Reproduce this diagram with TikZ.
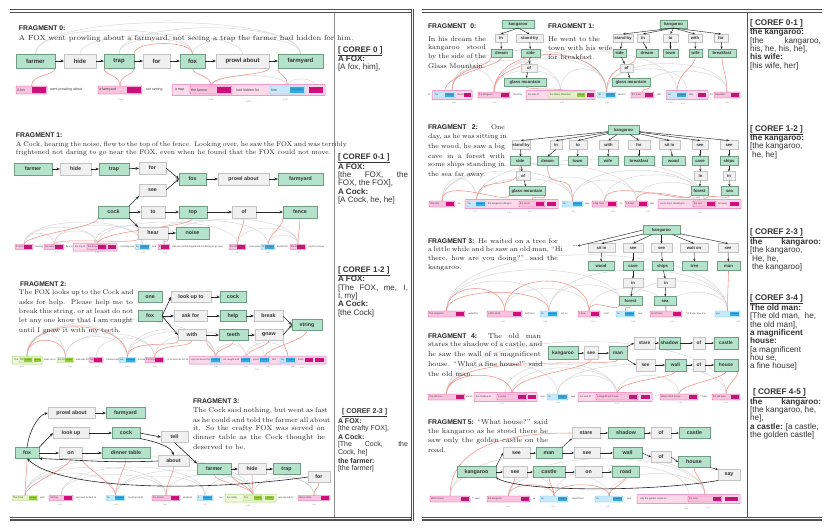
\documentclass[tikz,border=0pt]{standalone}
\usepackage{fontspec}
\setsansfont{Liberation Sans}
\usetikzlibrary{arrows.meta,backgrounds}
\definecolor{gnf}{HTML}{B4E2CB}
\definecolor{gnb}{HTML}{6F9E84}
\definecolor{gyf}{HTML}{F0F0F0}
\definecolor{gyb}{HTML}{C4C4C4}
\definecolor{pkf}{HTML}{F9C2DE}
\definecolor{pkb}{HTML}{E6409A}
\definecolor{pkc}{HTML}{FBD9EA}
\definecolor{pkt}{HTML}{D10F7C}
\definecolor{blf}{HTML}{C6EAFB}
\definecolor{blb}{HTML}{6CC4EE}
\definecolor{blt}{HTML}{34A8E0}
\definecolor{lmf}{HTML}{E3F3C6}
\definecolor{lmb}{HTML}{A9D46C}
\definecolor{lmt}{HTML}{95C83A}
\definecolor{garc}{HTML}{D6D6D6}
\definecolor{rarc}{HTML}{F2928A}
\definecolor{rulec}{HTML}{505050}
\newcommand\tagnameN{NOMINAL}
\newcommand\tagnameP{PRONOMINAL}
\newcommand\tagnameR{PROPER}
\newcounter{tc}
\newcommand\Nd[7]{\pgfmathsetmacro\ndw{#4-#3}\pgfmathsetmacro\ndx{(#3+#4)/2}\node[#2,minimum width=\ndw pt,minimum height=#6pt] (#1) at (\ndx,#5) {#7};}
\newcommand\Mn[6]{\pgfmathsetmacro\ndw{#4-#3}\pgfmathsetmacro\ndx{(#3+#4)/2}%
\node[mb#2,minimum width=\ndw pt,minimum height=\mh pt] (#1) at (\ndx,#5) {};%
\node[txt,anchor=west] (#1t) at ([xshift=1pt]#1.west) {#6};%
\node[tg#2,anchor=east,minimum width=\tagw pt,minimum height=\mh pt-1.6pt] (#1g) at ([xshift=-0.8pt]#1.east) {\csname tagname#2\endcsname};}
\newcommand\Bx[5]{\pgfmathsetmacro\ndw{#4-#3}\pgfmathsetmacro\ndx{(#3+#4)/2}\node[cb#2,minimum width=\ndw pt,minimum height=\mh pt+3pt] (#1) at (\ndx,#5) {};}
\newcommand\Tg[5]{\pgfmathsetmacro\ndw{#4-#3}\pgfmathsetmacro\ndx{(#3+#4)/2}\node[tg#2,minimum width=\ndw pt,minimum height=\mh pt-1.6pt] (#1) at (\ndx,#5) {\csname tagname#2\endcsname};}
\newcommand\Tx[3]{\stepcounter{tc}\node[txt,anchor=west] (tx\arabic{tc}) at (#1,#2) {#3};}
\newcommand\Sc[3]{\stepcounter{tc}\node[scr] (sc\arabic{tc}) at (#1,#2) {#3};}
\newcommand\Ag[3]{\draw[gline] (#1) .. controls +(0,-#3) and +(0,-#3) .. (#2);}
\newcommand\Ra[3]{\draw[rline] (#1) .. controls +(0,-#3) and +(0,-#3) .. (#2);}
\newcommand\Rn[4]{\draw[rline] (#1) .. controls +(0,-#3) and +(0,#4) .. (#2);}
\newcommand\Jl[4]{\stepcounter{tc}\node[para] (pl\arabic{tc}) at (#1,#2) {\makebox[#3pt][s]{#4}};}
\newcommand\Nl[3]{\stepcounter{tc}\node[para] (pl\arabic{tc}) at (#1,#2) {#3};}
\newcommand\Cl[3]{\stepcounter{tc}\node[cr] (cl\arabic{tc}) at (#1,#2) {#3};}
\newcommand\Cj[4]{\stepcounter{tc}\node[cr] (cl\arabic{tc}) at (#1,#2) {\makebox[#3pt][s]{#4}};}
\newcommand\titlefont{\sffamily\bfseries\fontsize{6.8}{8}\selectfont}
\newcommand\parafont{\rmfamily\fontsize{7}{8}\selectfont}
\newcommand\spfont{\sffamily\fontsize{2.4}{2.6}\selectfont}
\newcommand\tagfont{\sffamily\fontsize{1.3}{1.4}\selectfont}
\newcommand\crfont{\sffamily\fontsize{8}{9}\selectfont}
\newcommand\mh{5}
\newcommand\tagw{8}
\tikzset{
 bs/.style={inner sep=0pt, outer sep=0pt},
 gn/.style={bs, draw=gnb, fill=gnf, line width=0.5pt},
 gy/.style={bs, draw=gyb, fill=gyf, line width=0.5pt},
 fL/.style={font=\sffamily\bfseries\fontsize{6}{7}\selectfont, text=black!80},
 fM/.style={font=\sffamily\bfseries\fontsize{5.3}{6}\selectfont, text=black!80},
 fS/.style={font=\sffamily\bfseries\fontsize{4.2}{5}\selectfont, text=black!80},
 fT/.style={font=\sffamily\bfseries\fontsize{4.8}{5}\selectfont, text=black!80},
 arr/.style={-{Stealth[length=3.5pt,width=2.8pt]}, line width=0.6pt, black!85},
 arrs/.style={-{Stealth[length=2.6pt,width=2.1pt]}, line width=0.45pt, black!85},
 mbN/.style={bs, draw=pkb, fill=pkf, line width=0.4pt, rounded corners=0.6pt},
 mbP/.style={bs, draw=blb, fill=blf, line width=0.4pt, rounded corners=0.6pt},
 mbR/.style={bs, draw=lmb, fill=lmf, line width=0.4pt, rounded corners=0.6pt},
 cbN/.style={bs, draw=pkb!75, fill=pkc, line width=0.5pt, rounded corners=0.6pt},
 cbR/.style={bs, draw=lmb, fill=lmf!60, line width=0.5pt, rounded corners=0.6pt},
 tgN/.style={bs, fill=pkt, font=\tagfont, text=black!70},
 tgP/.style={bs, fill=blt, font=\tagfont, text=black!70},
 tgR/.style={bs, fill=lmt, font=\tagfont, text=black!70},
 gline/.style={draw=garc, line width=0.45pt},
 rline/.style={draw=rarc, line width=0.55pt},
 txt/.style={bs, font=\spfont, text=black!75},
 scr/.style={bs, font=\sffamily\fontsize{1.8}{2}\selectfont, text=black!60},
 para/.style={bs, anchor=west, font=\parafont, text=black!85},
 cr/.style={bs, anchor=west, font=\crfont, text=black!80},
}
\begin{document}
\begin{tikzpicture}[x=1pt,y=-1pt]
\useasboundingbox (0,0) rectangle (830,531);
% rules
\draw[rulec,line width=1.4pt] (10,9.5) -- (411,9.5);
\draw[rulec,line width=0.5pt] (10,12.5) -- (411,12.5);
\draw[rulec,line width=0.5pt] (10,517) -- (411,517);
\draw[rulec,line width=1.4pt] (10,520) -- (411,520);
\draw[rulec,line width=1.4pt] (422,9.5) -- (822,9.5);
\draw[rulec,line width=0.5pt] (422,12.5) -- (822,12.5);
\draw[rulec,line width=0.5pt] (422,517) -- (822,517);
\draw[rulec,line width=1.4pt] (422,520) -- (822,520);
\draw[black!45,line width=1pt] (334,13) -- (334,517);
\draw[rulec,line width=0.5pt] (411,9) -- (411,521);
\draw[rulec,line width=0.5pt] (413.5,9) -- (413.5,521);
\draw[rulec,line width=0.6pt] (747,13) -- (747,517);

% ================= LEFT FRAGMENT 0
\renewcommand\parafont{\rmfamily\fontsize{7.4}{8}\selectfont}
\Nl{19}{28}{\titlefont FRAGMENT 0:}
\Nl{19}{39}{A FOX went prowling about a farmyard, not seeing a trap the farmer had hidden for him.}
\Nd{a0farmer}{gn,fL}{16}{55}{61}{14}{farmer}
\Nd{a0hide}{gy,fL}{64}{96}{61}{14}{hide}
\Nd{a0trap}{gn,fL}{104}{134}{61}{14}{trap}
\Nd{a0for}{gy,fL}{143}{170}{61}{14}{for}
\Nd{a0fox}{gn,fL}{180}{205}{61}{14}{fox}
\Nd{a0prowl}{gy,fL}{216}{269}{61}{14}{prowl about}
\Nd{a0farmyard}{gn,fL}{278}{323}{61}{14}{farmyard}
\draw[arr] (a0farmer) -- (a0hide);
\draw[arr] (a0hide) -- (a0trap);
\draw[arr] (a0trap) -- (a0for);
\draw[arr] (a0for) -- (a0fox);
\draw[arr] (a0fox) -- (a0prowl);
\draw[arr] (a0prowl) -- (a0farmyard);
\renewcommand\mh{8}\renewcommand\tagw{14}
\renewcommand\spfont{\sffamily\fontsize{3.6}{4}\selectfont}
\renewcommand\tagfont{\sffamily\fontsize{1.9}{2}\selectfont}
\Mn{m0a}{N}{16}{47}{90}{A fox}
\Tx{50}{90}{went prowling about}
\Mn{m0b}{N}{98}{142}{90}{a farmyard}
\Tx{144}{90}{, not seeing}
\Bx{m0c}{N}{172}{325}{90}
\Tx{175}{90}{a trap}
\Mn{m0d}{N}{190}{232}{90}{the farmer}
\Tx{236}{90}{had hidden for}
\Mn{m0e}{P}{270}{305}{90}{him}
\Tg{m0f}{N}{309}{323}{90}
\Sc{121}{100}{1.000}\Sc{211}{100}{0.789}\Sc{248}{102}{1.433}\Sc{285}{100}{-0.761}

% ================= LEFT FRAGMENT 1
\renewcommand\parafont{\rmfamily\fontsize{6.7}{8}\selectfont}
\Nl{16}{135}{\titlefont FRAGMENT 1:}
\Jl{16}{145}{308}{A Cock, hearing the noise, flew to the top of the fence. Looking over, he saw the FOX and was terribly}
\Nl{16}{153}{frightened not daring to go near the FOX, even when he found that the FOX could not move.}
\Nd{b1farmer}{gn,fM}{14}{52}{169}{12}{farmer}
\Nd{b1hide}{gy,fM}{60}{91}{169}{12}{hide}
\Nd{b1trap}{gn,fM}{99}{129}{169}{12}{trap}
\Nd{b1for}{gy,fM}{139}{166}{168}{12}{for}
\Nd{b1fox}{gn,fM}{179}{206}{179}{12}{fox}
\Nd{b1prowl}{gy,fM}{218}{269}{179}{12}{prowl about}
\Nd{b1farmyard}{gn,fM}{278}{323}{179}{12}{farmyard}
\Nd{b1see}{gy,fM}{139}{166}{190}{12}{see}
\Nd{b1cock}{gn,fM}{98}{129}{212}{12}{cock}
\Nd{b1to}{gy,fM}{141}{165}{212}{12}{to}
\Nd{b1top}{gn,fM}{179}{207}{212}{12}{top}
\Nd{b1of}{gy,fM}{232}{256}{212}{12}{of}
\Nd{b1fence}{gn,fM}{283}{317}{212}{12}{fence}
\Nd{b1hear}{gy,fM}{138}{168}{233}{12}{hear}
\Nd{b1noise}{gn,fM}{176}{209}{233}{12}{noise}
\draw[arr] (b1farmer) -- (b1hide);
\draw[arr] (b1hide) -- (b1trap);
\draw[arr] (b1trap) -- (b1for);
\draw[arr] (b1for.east) -- (b1fox.west);
\draw[arr] (b1see.east) -- (b1fox.west);
\draw[arr] (b1fox) -- (b1prowl);
\draw[arr] (b1prowl) -- (b1farmyard);
\draw[arr] (b1cock.north east) -- (b1see.south west);
\draw[arr] (b1cock) -- (b1to);
\draw[arr] (b1to) -- (b1top);
\draw[arr] (b1top) -- (b1of);
\draw[arr] (b1of) -- (b1fence);
\draw[arr] (b1cock.south east) -- (b1hear.north west);
\draw[arr] (b1hear) -- (b1noise);
\renewcommand\mh{5}\renewcommand\tagw{8}
\renewcommand\spfont{\sffamily\fontsize{2.4}{2.6}\selectfont}
\renewcommand\tagfont{\sffamily\fontsize{1.3}{1.4}\selectfont}
\Mn{m1a}{N}{15}{33}{247}{A Cock}
\Tx{35}{247}{hearing}
\Mn{m1b}{N}{44}{64}{247}{the noise}
\Tx{66}{247}{flew to}
\Bx{m1c}{N}{73}{117}{247}
\Tx{75}{247}{the top of}
\Mn{m1d}{N}{87}{107}{247}{the fence}
\Tg{m1e}{N}{108}{116}{247}
\Tx{119}{247}{. Looking over,}
\Mn{m1f}{P}{135}{150}{247}{he}
\Tx{152}{247}{saw}
\Mn{m1g}{N}{158}{170}{247}{the FOX}
\Tx{172}{247}{and was terribly frightened not daring to go near}
\Mn{m1h}{N}{229}{246}{247}{the FOX}
\Tx{248}{247}{, even when}
\Mn{m1i}{P}{261}{275}{247}{he}
\Tx{277}{247}{found that}
\Mn{m1j}{N}{290}{306}{247}{the FOX}
\Tx{308}{247}{could not move.}
\Sc{57}{253}{1.77}\Sc{97}{253}{0.43}\Sc{143}{253}{1.00}\Sc{165}{253}{1.01}\Sc{237}{253}{0.8}\Sc{268}{253}{1.00}\Sc{298}{253}{0.8}

% ================= LEFT FRAGMENT 2
\renewcommand\parafont{\rmfamily\fontsize{6.8}{8}\selectfont}
\Nl{20}{284}{\titlefont FRAGMENT 2:}
\Jl{19}{293}{114}{The FOX looks up to the Cock and}
\Jl{19}{303}{114}{asks for help. Please help me to}
\Jl{19}{312}{114}{break this string, or at least do not}
\Jl{19}{321}{114}{let any one know that I am caught}
\Nl{19}{331}{until I gnaw it with my teeth.}
\Nd{c2one}{gn,fM}{138}{162}{297}{11}{one}
\Nd{c2lookup}{gy,fM}{171}{211}{297}{11}{look up to}
\Nd{c2cock}{gn,fM}{220}{246}{297}{11}{cock}
\Nd{c2fox}{gn,fM}{138}{162}{316}{11}{fox}
\Nd{c2ask}{gy,fM}{174}{207}{316}{11}{ask for}
\Nd{c2help}{gn,fM}{220}{246}{316}{11}{help}
\Nd{c2break}{gy,fM}{254}{283}{316}{11}{break}
\Nd{c2string}{gn,fM}{292}{322}{325}{11}{string}
\Nd{c2with}{gy,fM}{178}{206}{335}{11}{with}
\Nd{c2teeth}{gn,fM}{219}{248}{335}{11}{teeth}
\Nd{c2gnaw}{gy,fM}{255}{283}{335}{11}{gnaw}
\draw[arr] (c2fox.east) -- (c2lookup.west);
\draw[arr] (c2fox) -- (c2ask);
\draw[arr] (c2fox.east) -- (c2with.west);
\draw[arr] (c2lookup) -- (c2cock);
\draw[arr] (c2ask) -- (c2help);
\draw[arr] (c2help) -- (c2break);
\draw[arr] (c2break.east) -- (c2string.west);
\draw[arr] (c2with) -- (c2teeth);
\draw[arr] (c2teeth) -- (c2gnaw);
\draw[arr] (c2gnaw.east) -- (c2string.west);
\Bx{m2a}{R}{12}{42}{360}
\Tx{14}{360}{The}
\Mn{m2b}{R}{19}{33}{360}{FOX}
\Tg{m2c}{R}{34}{41}{360}
\Tx{44}{360}{looks up to}
\Mn{m2d}{R}{57}{74}{360}{the Cock}
\Tx{76}{360}{and asks for}
\Mn{m2e}{N}{89}{103}{360}{help}
\Tx{105}{360}{. Please help}
\Mn{m2f}{P}{119}{136}{360}{me}
\Tx{138}{360}{to break}
\Mn{m2g}{N}{145}{164}{360}{this string}
\Tx{166}{360}{, or at least do not let}
\Bx{m2h}{N}{189}{326}{360}
\Tx{191}{360}{any one know that}
\Mn{m2i}{P}{210}{221}{360}{I}
\Tx{223}{360}{am caught until}
\Mn{m2j}{P}{241}{251}{360}{I}
\Tx{253}{360}{gnaw}
\Mn{m2k}{P}{259}{270}{360}{it}
\Tx{272}{360}{with}
\Mn{m2l}{P}{280}{296}{360}{my}
\Tx{298}{360}{teeth}
\Tg{m2m}{N}{305}{313}{360}
\Tg{m2n}{N}{315}{324}{360}
\Sc{22}{367}{1.00}\Sc{70}{367}{1.00}\Sc{97}{367}{1.07}\Sc{127}{367}{1.00}\Sc{155}{367}{1.00}\Sc{216}{367}{0.90}\Sc{246}{367}{0.00}\Sc{257}{370}{1.00}\Sc{268}{367}{0.20}\Sc{293}{367}{0.00}\Sc{302}{368}{1.00}

% ================= LEFT FRAGMENT 3
\renewcommand\parafont{\rmfamily\fontsize{7}{8}\selectfont}
\Nl{193}{401}{\titlefont FRAGMENT 3:}
\Jl{193}{411}{132}{The Cock said nothing, but went as fast}
\Jl{193}{420}{132}{as he could and told the farmer all about}
\Jl{193}{429}{132}{it. So the crafty FOX was served on}
\Jl{193}{438}{132}{dinner table as the Cock thought he}
\Nl{193}{447}{deserved to be.}
\Nd{d3prowl}{gy,fM}{48}{95}{413}{11}{prowl about}
\Nd{d3farmyard}{gn,fM}{106}{145}{413}{11}{farmyard}
\Nd{d3lookup}{gy,fM}{53}{89}{433}{11}{look up}
\Nd{d3cock}{gn,fM}{112}{140}{433}{11}{cock}
\Nd{d3tell}{gy,fM}{161}{188}{437}{11}{tell}
\Nd{d3fox}{gn,fM}{15}{39}{453}{11}{fox}
\Nd{d3on}{gy,fM}{59}{82}{453}{11}{on}
\Nd{d3dinner}{gn,fM}{102}{150}{453}{11}{dinner table}
\Nd{d3about}{gy,fM}{158}{189}{461}{11}{about}
\Nd{d3farmer}{gn,fM}{197}{231}{469}{11}{farmer}
\Nd{d3hide}{gy,fM}{238}{266}{469}{11}{hide}
\Nd{d3trap}{gn,fM}{273}{300}{469}{11}{trap}
\Nd{d3for}{gy,fM}{308}{330}{477}{11}{for}
\draw[arr] (d3fox.north) .. controls +(2,-16) and +(-10,2) .. (d3prowl.west);
\draw[arr] (d3fox.north east) -- (d3lookup.west);
\draw[arr] (d3fox) -- (d3on);
\draw[arr] (d3prowl) -- (d3farmyard);
\draw[arr] (d3lookup) -- (d3cock);
\draw[arr] (d3on) -- (d3dinner);
\draw[arr] (d3cock.east) -- (d3tell.west);
\draw[arr] (d3cock.south east) .. controls +(20,4) and +(-2,-8) .. (d3about.north);
\draw[arr] (d3tell.south) -- (d3farmer.north west);
\draw[arr] (d3about.west) .. controls +(-50,2) and +(50,2) .. (d3fox.south east);
\draw[arr] (d3farmer) -- (d3hide);
\draw[arr] (d3hide) -- (d3trap);
\draw[arr] (d3for.west) .. controls (200,492) and (60,490) .. (d3fox.south);
\Mn{m3a}{R}{12}{38}{498}{The Cock}
\Tx{40}{498}{said}
\Mn{m3b}{N}{49}{73}{498}{nothing}
\Tx{75}{498}{, but went as fast as}
\Mn{m3c}{P}{106}{125}{498}{he}
\Tx{128}{498}{could and told}
\Mn{m3d}{N}{152}{180}{498}{the farmer}
\Tx{183}{498}{all about}
\Mn{m3e}{P}{197}{213}{498}{it}
\Tx{218}{498}{. So}
\Bx{m3f}{R}{225}{276}{498}
\Tx{227}{498}{the crafty}
\Mn{m3g}{R}{243}{263}{498}{Fox}
\Tg{m3h}{R}{265}{274}{498}
\Tx{278}{498}{was served on}
\Mn{m3i}{N}{298}{330}{498}{dinner table}
\Sc{60}{505}{1.00}\Sc{116}{505}{-0.51}\Sc{165}{505}{1.00}\Sc{205}{505}{1.07}\Sc{248}{506}{-0.87}\Sc{314}{505}{1.00}

% ================= LEFT COREF
\Cl{338}{51}{\textbf{\underline{[ COREF 0 ]}}}
\Cl{338}{59}{\textbf{A FOX:}}
\Cl{338}{67}{[A fox, him],}
\Cl{338}{158}{\textbf{\underline{[ COREF 0-1 ]}}}
\Cl{338}{167}{\textbf{A FOX:}}
\Cj{338}{175}{70}{[the FOX, the}
\Cl{338}{183}{FOX, the FOX],}
\Cl{338}{192}{\textbf{A Cock:}}
\Cl{338}{200}{[A Cock, he, he]}
\Cl{338}{271}{\textbf{\underline{[ COREF 1-2 ]}}}
\Cl{338}{279}{\textbf{A FOX:}}
\Cj{338}{288}{70}{[The FOX, me, I,}
\Cl{338}{296}{I, my]}
\Cl{338}{304}{\textbf{A Cock:}}
\Cl{338}{313}{[the Cock]}
\renewcommand\crfont{\sffamily\fontsize{7}{8}\selectfont}
\Cl{342}{413}{\textbf{\underline{[ COREF 2-3 ]}}}
\Cl{338}{421}{\textbf{A FOX:}}
\Cl{338}{429}{[the crafty FOX],}
\Cl{338}{437}{\textbf{A Cock:}}
\Cj{338}{445}{70}{[The Cock, the}
\Cl{338}{453}{Cock, he]}
\Cl{338}{461}{\textbf{the farmer:}}
\Cl{338}{469}{[the farmer]}

% ================= RIGHT FRAGMENT 0 / 1
\renewcommand\parafont{\rmfamily\fontsize{7}{8}\selectfont}
\Nl{428}{26}{\titlefont FRAGMENT\ \ 0:}
\Jl{428}{39}{58}{In his dream the}
\Jl{428}{48}{58}{kangaroo stood}
\Jl{428}{57}{58}{by the side of the}
\Nl{428}{66}{Glass Mountain.}
\Nl{548}{26}{\titlefont FRAGMENT 1:}
\Jl{548}{39}{52}{He went to the}
\Nl{548}{48}{town with his wife}
\Nl{548}{57}{for breakfast.}
\Nd{e0kang}{gn,fS}{502}{534}{24}{8}{kangaroo}
\Nd{e0in}{gy,fS}{495}{507}{38}{8}{in}
\Nd{e0stand}{gy,fS}{516}{543}{38}{8}{stand by}
\Nd{e0dream}{gn,fS}{491}{512}{53}{8}{dream}
\Nd{e0side}{gn,fS}{521}{540}{53}{8}{side}
\Nd{e0of}{gy,fS}{521}{537}{68}{8}{of}
\Nd{e0glass}{gn,fS}{504}{546}{82}{8}{glass mountain}
\draw[arrs] (e0kang.south) -- (e0in.north);
\draw[arrs] (e0kang.south) -- (e0stand.north);
\draw[arrs] (e0in) -- (e0dream);
\draw[arrs] (e0stand) -- (e0side);
\draw[arrs] (e0side) -- (e0of);
\draw[arrs] (e0of) -- (e0glass);
\Nd{f1kang}{gn,fS}{660}{687}{24}{8}{kangaroo}
\Nd{f1stand}{gy,fS}{613}{633}{38}{8}{stand by}
\Nd{f1in}{gy,fS}{637}{649}{38}{8}{in}
\Nd{f1to}{gy,fS}{663}{678}{38}{8}{to}
\Nd{f1with}{gy,fS}{688}{702}{38}{8}{with}
\Nd{f1for}{gy,fS}{714}{728}{38}{8}{for}
\Nd{f1side}{gn,fS}{613}{626}{53}{8}{side}
\Nd{f1dream}{gn,fS}{636}{658}{53}{8}{dream}
\Nd{f1town}{gn,fS}{663}{678}{53}{8}{town}
\Nd{f1wife}{gn,fS}{689}{702}{53}{8}{wife}
\Nd{f1breakfast}{gn,fS}{708}{736}{53}{8}{breakfast}
\Nd{f1of}{gy,fS}{620}{633}{68}{8}{of}
\Nd{f1glass}{gn,fS}{612}{650}{82}{8}{glass mountain}
\foreach \t in {stand,in,to,with,for} {\draw[arrs] (f1kang.south) -- (f1\t.north);}
\draw[arrs] (f1stand) -- (f1side);
\draw[arrs] (f1in.south) -- (f1dream.north);
\draw[arrs] (f1to) -- (f1town);
\draw[arrs] (f1with) -- (f1wife);
\draw[arrs] (f1for) -- (f1breakfast);
\draw[arrs] (f1side) -- (f1of);
\draw[arrs] (f1of) -- (f1glass);
\renewcommand\mh{6}
\Tx{428}{95}{In}
\Bx{n0a}{N}{432}{472}{95}
\Mn{n0b}{P}{434}{455}{95}{his}
\Tx{457}{95}{dream}
\Tg{n0c}{N}{464}{471}{95}
\Mn{n0d}{N}{478}{510}{95}{the kangaroo}
\Tx{513}{95}{stood by}
\Bx{n0e}{N}{526}{595}{95}
\Tx{528}{95}{the side of}
\Mn{n0f}{R}{549}{586}{95}{the Glass Mountain}
\Tg{n0g}{N}{587}{594}{95}
\Mn{n1a}{P}{597}{616}{95}{He}
\Tx{618}{95}{went to}
\Mn{n1b}{N}{631}{654}{95}{the town}
\Tx{657}{95}{with}
\Bx{n1c}{N}{666}{708}{95}
\Mn{n1d}{P}{667}{687}{95}{his}
\Tx{689}{95}{wife}
\Tg{n1e}{N}{698}{706}{95}
\Tx{710}{95}{for}
\Mn{n1f}{N}{714}{740}{95}{breakfast}
\Sc{454}{103}{1.000}\Sc{494}{103}{1.08}\Sc{562}{103}{1.00}\Sc{607}{103}{1.00}\Sc{670}{103}{1.00}\Sc{683}{104}{1.00}\Sc{727}{103}{1.00}

% ================= RIGHT FRAGMENT 2
\renewcommand\parafont{\rmfamily\fontsize{6.9}{8}\selectfont}
\Jl{428}{127}{77}{{\titlefont FRAGMENT 2:} One}
\Jl{428}{137}{77}{day, as he was sitting in}
\Jl{428}{147}{77}{the wood, he saw a big}
\Jl{428}{156}{77}{cave in a forest with}
\Jl{428}{165}{77}{some ships standing in}
\Nl{428}{175}{the sea far away.}
\Nd{g2kang}{gn,fS}{608}{639}{130}{9}{kangaroo}
\Nd{g2stand}{gy,fS}{512}{530}{145}{9}{stand by}
\Nd{g2in}{gy,fS}{550}{562}{145}{9}{in}
\Nd{g2to}{gy,fS}{569}{587}{145}{9}{to}
\Nd{g2with}{gy,fS}{599}{618}{145}{9}{with}
\Nd{g2for}{gy,fS}{628}{650}{145}{9}{for}
\Nd{g2sit}{gy,fS}{659}{680}{145}{9}{sit in}
\Nd{g2see}{gy,fS}{692}{708}{145}{9}{see}
\Nd{g2seeb}{gy,fS}{720}{738}{145}{9}{see}
\Nd{g2side}{gn,fS}{510}{530}{161}{9}{side}
\Nd{g2dream}{gn,fS}{537}{558}{161}{9}{dream}
\Nd{g2town}{gn,fS}{568}{587}{161}{9}{town}
\Nd{g2wife}{gn,fS}{598}{618}{161}{9}{wife}
\Nd{g2breakfast}{gn,fS}{624}{654}{161}{9}{breakfast}
\Nd{g2wood}{gn,fS}{662}{685}{161}{9}{wood}
\Nd{g2cave}{gn,fS}{692}{708}{161}{9}{cave}
\Nd{g2ships}{gn,fS}{720}{738}{161}{9}{ships}
\Nd{g2of}{gy,fS}{516}{530}{176}{9}{of}
\Nd{g2ina}{gy,fS}{694}{707}{176}{9}{in}
\Nd{g2inb}{gy,fS}{723}{735}{176}{9}{in}
\Nd{g2glass}{gn,fS}{509}{545}{191}{9}{glass mountain}
\Nd{g2forest}{gn,fS}{691}{708}{191}{9}{forest}
\Nd{g2sea}{gn,fS}{721}{738}{191}{9}{sea}
\foreach \t in {stand,in,to,with,for,sit,see,seeb} {\draw[arrs] (g2kang) -- (g2\t.north);}
\draw[arrs] (g2stand) -- (g2side);
\draw[arrs] (g2in.south) -- (g2dream.north);
\draw[arrs] (g2to) -- (g2town);
\draw[arrs] (g2with) -- (g2wife);
\draw[arrs] (g2for) -- (g2breakfast);
\draw[arrs] (g2sit) -- (g2wood);
\draw[arrs] (g2see) -- (g2cave);
\draw[arrs] (g2seeb) -- (g2ships);
\draw[arrs] (g2side) -- (g2of);
\draw[arrs] (g2of) -- (g2glass);
\draw[arrs] (g2cave) -- (g2ina);
\draw[arrs] (g2ina) -- (g2forest);
\draw[arrs] (g2ships) -- (g2inb);
\draw[arrs] (g2inb) -- (g2sea);
\Mn{n2a}{N}{429}{455}{204}{One day}
\Tx{458}{204}{as}
\Bx{n2b}{N}{465}{558}{204}
\Mn{n2c}{P}{467}{486}{204}{he}
\Tx{488}{204}{the kangaroo sitting in}
\Mn{n2d}{N}{519}{545}{204}{the wood}
\Tg{n2e}{N}{547}{556}{204}
\Mn{n2f}{P}{562}{583}{204}{he}
\Tx{585}{204}{saw}
\Mn{n2g}{N}{592}{617}{204}{a big cave}
\Tx{620}{204}{in}
\Mn{n2h}{N}{625}{648}{204}{a forest}
\Tx{650}{204}{with}
\Bx{n2i}{N}{658}{741}{204}
\Tx{660}{204}{some ships standing in}
\Mn{n2j}{N}{693}{716}{204}{the sea}
\Tx{718}{204}{far away}
\Tg{n2k}{N}{730}{739}{204}
\Sc{475}{212}{0.77}\Sc{509}{213}{1.00}\Sc{530}{212}{0.90}\Sc{573}{212}{0.70}\Sc{613}{212}{1.00}\Sc{648}{212}{1.00}\Sc{700}{213}{1.00}

% ================= RIGHT FRAGMENT 3
\Jl{428}{241}{130}{{\titlefont FRAGMENT 3:} He waited on a tree for}
\Jl{428}{250}{130}{a little while and he saw an old man, ``Hi}
\Jl{428}{259}{130}{there, how are you doing?'' said the}
\Nl{428}{268}{kangaroo.}
\node[bs,font=\rmfamily\fontsize{7}{8}\selectfont] (h3dots) at (575,246) {\dots};
\Nd{h3kang}{gn,fS}{643}{680}{230}{9}{kangaroo}
\Nd{h3sit}{gy,fS}{588}{615}{248}{9}{sit in}
\Nd{h3seea}{gy,fS}{623}{643}{248}{9}{see}
\Nd{h3seeb}{gy,fS}{651}{672}{248}{9}{see}
\Nd{h3wait}{gy,fS}{680}{708}{248}{9}{wait on}
\Nd{h3seec}{gy,fS}{718}{738}{248}{9}{see}
\Nd{h3wood}{gn,fS}{588}{614}{266}{9}{wood}
\Nd{h3cave}{gn,fS}{623}{643}{266}{9}{cave}
\Nd{h3ships}{gn,fS}{652}{673}{266}{9}{ships}
\Nd{h3tree}{gn,fS}{682}{707}{266}{9}{tree}
\Nd{h3man}{gn,fS}{717}{740}{266}{9}{man}
\Nd{h3ina}{gy,fS}{623}{643}{283}{9}{in}
\Nd{h3inb}{gy,fS}{657}{675}{283}{9}{in}
\Nd{h3forest}{gn,fS}{619}{642}{301}{9}{forest}
\Nd{h3sea}{gn,fS}{654}{676}{301}{9}{sea}
\draw[arrs] (h3kang.west) -- (h3dots.east);
\foreach \t in {sit,seea,seeb,wait,seec} {\draw[arrs] (h3kang) -- (h3\t.north);}
\draw[arrs] (h3sit) -- (h3wood);
\draw[arrs] (h3seea) -- (h3cave);
\draw[arrs] (h3seeb) -- (h3ships);
\draw[arrs] (h3wait) -- (h3tree);
\draw[arrs] (h3seec) -- (h3man);
\draw[arrs] (h3cave) -- (h3ina);
\draw[arrs] (h3ina) -- (h3forest);
\draw[arrs] (h3ships) -- (h3inb);
\draw[arrs] (h3inb) -- (h3sea);
\Mn{n3a}{N}{428}{465}{314}{The kangaroo}
\Tx{468}{314}{waited for}
\Mn{n3b}{N}{487}{522}{314}{a little while}
\Tx{525}{314}{and then}
\Mn{n3c}{P}{540}{558}{314}{he}
\Tx{561}{314}{sat on}
\Mn{n3d}{N}{578}{600}{314}{a tree}
\Tx{603}{314}{, and}
\Mn{n3e}{P}{616}{635}{314}{he}
\Tx{638}{314}{saw}
\Mn{n3f}{N}{650}{682}{314}{an old man}
\Tx{685}{314}{, ``Hi there, how are}
\Mn{n3g}{P}{715}{740}{314}{you}
\Sc{503}{322}{1.00}\Sc{545}{322}{-1.00}\Sc{593}{322}{1.07}\Sc{633}{322}{0.90}\Sc{672}{322}{1.00}\Sc{738}{322}{-0.21}

% ================= RIGHT FRAGMENT 4
\renewcommand\parafont{\rmfamily\fontsize{7.1}{8}\selectfont}
\Jl{428}{336}{113}{{\titlefont FRAGMENT 4:} The old man}
\Jl{428}{345}{113}{stares the shadow of a castle, and}
\Jl{428}{355}{113}{he saw the wall of a magnificent}
\Jl{428}{364}{113}{house. ``What a fine house!'' said}
\Nl{428}{374}{the old man.}
\Nd{i4kang}{gn,fT}{548}{578}{353}{13}{kangaroo}
\Nd{i4see}{gy,fT}{584}{598}{353}{13}{see}
\Nd{i4man}{gn,fT}{609}{627}{353}{13}{man}
\Nd{i4stare}{gy,fT}{634}{655}{343}{12}{stare}
\Nd{i4shadow}{gn,fT}{659}{680}{343}{12}{shadow}
\Nd{i4ofa}{gy,fT}{693}{705}{343}{12}{of}
\Nd{i4castle}{gn,fT}{714}{738}{343}{12}{castle}
\Nd{i4seeb}{gy,fT}{636}{655}{365}{12}{see}
\Nd{i4wall}{gn,fT}{665}{686}{365}{12}{wall}
\Nd{i4ofb}{gy,fT}{693}{705}{365}{12}{of}
\Nd{i4house}{gn,fT}{714}{738}{365}{12}{house}
\draw[arrs] (i4kang) -- (i4see);
\draw[arrs] (i4see) -- (i4man);
\draw[arrs] (i4man.north east) -- (i4stare.west);
\draw[arrs] (i4man.south east) -- (i4seeb.west);
\draw[arrs] (i4stare) -- (i4shadow);
\draw[arrs] (i4shadow) -- (i4ofa);
\draw[arrs] (i4ofa) -- (i4castle);
\draw[arrs] (i4seeb) -- (i4wall);
\draw[arrs] (i4wall) -- (i4ofb);
\draw[arrs] (i4ofb) -- (i4house);
\Mn{n4a}{N}{428}{465}{397}{The old man}
\Tx{466}{397}{stares}
\Bx{n4b}{N}{474}{537}{397}
\Tx{476}{397}{the shadow of}
\Mn{n4c}{N}{497}{527}{397}{a castle}
\Tg{n4d}{N}{528}{536}{397}
\Tx{539}{397}{, and}
\Mn{n4e}{P}{547}{568}{397}{he}
\Tx{571}{397}{saw}
\Bx{n4f}{N}{578}{652}{397}
\Tx{580}{397}{the wall of}
\Mn{n4g}{N}{596}{638}{397}{a magnificent house}
\Tg{n4h}{N}{641}{650}{397}
\Tx{655}{397}{``}
\Mn{n4i}{N}{660}{698}{397}{What a fine house}
\Tx{700}{397}{!'' said}
\Mn{n4j}{N}{712}{740}{397}{the old man}
\Sc{502}{404}{1.07}\Sc{558}{403}{0.00}\Sc{617}{404}{1.00}\Sc{680}{403}{1.13}\Sc{726}{403}{1.00}

% ================= RIGHT FRAGMENT 5
\Jl{428}{422}{120}{{\titlefont FRAGMENT 5:} ``What house?'' said}
\Jl{428}{432}{120}{the kangaroo as he stood there he}
\Jl{428}{441}{120}{saw only the golden castle on the}
\Nl{428}{450}{road.}
\Nd{j5stare}{gy,fM}{572}{600}{433}{11}{stare}
\Nd{j5shadow}{gn,fM}{608}{644}{433}{11}{shadow}
\Nd{j5ofa}{gy,fM}{651}{671}{433}{11}{of}
\Nd{j5castle}{gn,fM}{679}{710}{433}{11}{castle}
\Nd{j5seea}{gy,fM}{503}{530}{453}{11}{see}
\Nd{j5man}{gn,fM}{536}{562}{453}{11}{man}
\Nd{j5seeb}{gy,fM}{574}{600}{453}{11}{see}
\Nd{j5wall}{gn,fM}{613}{642}{453}{11}{wall}
\Nd{j5ofb}{gy,fM}{651}{671}{457}{11}{of}
\Nd{j5house}{gn,fM}{678}{710}{462}{11}{house}
\Nd{j5kang}{gn,fM}{457}{496}{472}{11}{kangaroo}
\Nd{j5seec}{gy,fM}{503}{527}{472}{11}{see}
\Nd{j5castleb}{gn,fM}{533}{565}{472}{11}{castle}
\Nd{j5on}{gy,fM}{575}{602}{472}{11}{on}
\Nd{j5road}{gn,fM}{612}{639}{472}{11}{road}
\Nd{j5say}{gy,fM}{718}{740}{475}{11}{say}
\draw[arrs] (j5kang.north east) -- (j5seea.west);
\draw[arrs] (j5kang) -- (j5seec);
\draw[arrs] (j5seea) -- (j5man);
\draw[arrs] (j5man.north east) -- (j5stare.south west);
\draw[arrs] (j5man) -- (j5seeb);
\draw[arrs] (j5stare) -- (j5shadow);
\draw[arrs] (j5shadow) -- (j5ofa);
\draw[arrs] (j5ofa) -- (j5castle);
\draw[arrs] (j5seeb) -- (j5wall);
\draw[arrs] (j5wall.east) -- (j5ofb.west);
\draw[arrs] (j5ofb.east) -- (j5house.west);
\draw[arrs] (j5house.south east) -- (j5say.north west);
\draw[arrs] (j5seec) -- (j5castleb);
\draw[arrs] (j5castleb) -- (j5on);
\draw[arrs] (j5on) -- (j5road);
\draw[arrs,line width=0.6pt] (j5say.south west) .. controls (650,492) and (520,492) .. (j5kang.south east);
\Tx{427}{499}{``}
\Mn{n5a}{N}{430}{470}{499}{What house}
\Tx{472}{499}{?'' said}
\Mn{n5b}{N}{487}{530}{499}{the kangaroo}
\Tx{533}{499}{as}
\Mn{n5c}{P}{540}{568}{499}{he}
\Tx{572}{499}{stood there}
\Mn{n5d}{P}{595}{623}{499}{he}
\Tx{627}{499}{saw}
\Bx{n5e}{N}{637}{740}{499}
\Tx{640}{499}{only the golden castle on}
\Mn{n5f}{N}{688}{722}{499}{the road}
\Tg{n5g}{N}{725}{738}{499}
\Sc{508}{507}{1.05}\Sc{553}{507}{-1.27}\Sc{607}{507}{-1.18}\Sc{686}{509}{1.40}\Sc{708}{508}{1.72}

% ================= RIGHT COREF
\renewcommand\crfont{\sffamily\fontsize{8.2}{9}\selectfont}
\Cl{750}{24}{\textbf{\underline{[ COREF 0-1 ]}}}
\Cl{750}{32}{\textbf{the kangaroo:}}
\Cj{750}{41}{71}{[the kangaroo,}
\Cl{750}{49}{his, he, his, he],}
\Cl{750}{57}{\textbf{his wife:}}
\Cl{750}{66}{[his wife, her]}
\Cl{750}{130}{\textbf{\underline{[ COREF 1-2 ]}}}
\Cl{750}{138}{\textbf{the kangaroo:}}
\Cl{750}{146}{[the kangaroo,}
\Cl{752}{155}{he, he]}
\Cl{750}{233}{\textbf{\underline{[ COREF 2-3 ]}}}
\Cj{750}{242}{71}{\textbf{the kangaroo:}}
\Cl{750}{250}{[the kangaroo,}
\Cl{752}{259}{He, he,}
\Cl{752}{267}{the kangaroo]}
\Cl{750}{299}{\textbf{\underline{[ COREF 3-4 ]}}}
\Cl{750}{308}{\textbf{The old man:}}
\Cl{750}{316}{[The old man,\ \ he,}
\Cl{750}{325}{the old man],}
\Cl{750}{333}{\textbf{a magnificent}}
\Cl{750}{341}{\textbf{house:}}
\Cl{750}{350}{[a magnificent}
\Cl{750}{358}{hou se,}
\Cl{750}{366}{a fine house]}
\Cl{753}{393}{\textbf{\underline{[ COREF 4-5 ]}}}
\Cj{750}{402}{71}{\textbf{the kangaroo:}}
\Cl{750}{410}{[the kangaroo, he,}
\Cl{750}{418}{he],}
\Cl{750}{427}{\textbf{a castle:} [a castle,}
\Cl{750}{435}{the golden castle]}

% ================= ARCS (background)
\begin{pgfonlayer}{background}
\fill[white] (0,0) rectangle (830,531);
% L0
\Ag{a0farmer.north}{a0farmyard.north}{42}
\Ag{a0trap.north}{a0farmyard.north}{35}
\Ag{a0farmer.north}{a0fox.north}{32}
\Ag{a0hide.north}{a0prowl.north}{26}
\Ag{a0trap.north}{a0fox.north}{20}
\Ag{a0fox.north}{a0farmyard.north}{22}
\Ag{m0e.north}{m0f.north}{10}
\Ag{m0d.north}{m0e.north}{14}
\Rn{m0a.north}{a0farmer.south east}{12}{8}
\Rn{m0b.north}{a0trap.south west}{12}{8}
\Rn{m0b.north}{a0trap.south east}{12}{8}
\Ra{a0trap.north east}{a0fox.north}{14}
\Rn{m0d.north}{a0fox.south}{12}{8}
\Rn{m0d.north}{a0prowl.south east}{12}{8}
\Rn{m0e.north}{a0farmyard.south west}{12}{8}
% L1
\Ag{m1a.north}{m1b.north}{15}
\Ag{m1a.north}{m1c.north}{22}
\Ag{m1a.north}{m1f.north}{30}
\Ag{m1b.north}{m1d.north}{18}
\Ag{m1c.north}{m1g.north}{24}
\Ag{m1d.north}{m1h.north}{30}
\Ag{m1f.north}{m1i.north}{32}
\Ag{m1g.north}{m1j.north}{34}
\Ag{m1h.north}{m1j.north}{22}
\Ag{m1b.north}{m1f.north}{26}
\Ag{m1i.north}{m1j.north}{12}
\Rn{m1a.north}{b1cock.south west}{10}{10}
\Rn{m1b.north}{b1hear.south west}{8}{6}
\Rn{m1d.north}{b1top.south}{15}{10}
\Rn{m1g.north}{b1hear.south east}{8}{6}
\Rn{m1h.north}{b1of.south}{10}{10}
\Rn{m1i.north}{b1fence.south west}{10}{10}
\Rn{m1j.north}{b1fence.south}{10}{10}
% L2
\Ag{m2a.north}{m2d.north}{30}
\Ag{m2a.north}{m2f.north}{42}
\Ag{m2d.north}{m2f.north}{28}
\Ag{m2e.north}{m2g.north}{26}
\Ag{m2f.north}{m2i.north}{38}
\Ag{m2g.north}{m2k.north}{34}
\Ag{m2i.north}{m2j.north}{18}
\Ag{m2j.north}{m2l.north}{20}
\Ag{m2a.north}{m2i.north}{50}
\Ag{m2f.north}{m2j.north}{36}
\Ag{m2d.north}{m2g.north}{32}
\Ra{m2a.north}{m2f.north}{40}
\Ra{m2a.north}{m2d.north}{22}
\Rn{m2f.north}{c2with.south west}{20}{8}
\Rn{m2i.north}{c2with.south east}{8}{6}
\Rn{m2i.north}{c2teeth.south}{10}{8}
\Rn{m2j.north}{c2gnaw.south}{8}{6}
\Rn{m2l.north}{c2gnaw.south east}{8}{6}
\Rn{m2g.north}{c2with.south}{15}{8}
\Rn{m2k.north}{c2string.south}{10}{10}
% L3
\Ag{m3a.north}{m3c.north}{30}
\Ag{m3a.north}{m3d.north}{38}
\Ag{m3b.north}{m3d.north}{28}
\Ag{m3c.north}{m3e.north}{26}
\Ag{m3c.north}{m3g.north}{34}
\Ag{m3d.north}{m3g.north}{28}
\Ag{m3e.north}{m3i.north}{30}
\Ag{m3g.north}{m3i.north}{24}
\Ag{m3b.north}{m3e.north}{38}
\Ag{m3a.north}{m3g.north}{52}
\Rn{m3a.north}{d3fox.south}{10}{10}
\Rn{m3a.north}{d3on.south}{12}{10}
\Rn{m3c.north}{d3dinner.south}{12}{8}
\Rn{m3c.north}{d3on.south east}{12}{8}
\Rn{m3d.north}{d3about.south}{12}{8}
\Rn{m3g.north}{d3farmer.south}{10}{8}
\Rn{m3g.north}{d3hide.south}{10}{8}
\Rn{m3g.north}{d3farmer.south east}{8}{6}
\Rn{m3i.north}{d3for.south}{8}{6}
% R0-1
\Ag{n0a.north}{n0d.north}{30}
\Ag{n0a.north}{n0e.north}{40}
\Ag{n0d.north}{n0e.north}{28}
\Ag{n0a.north}{n1a.north}{55}
\Ag{n0d.north}{n1a.north}{45}
\Ag{n0e.north}{n1a.north}{30}
\Ag{n1a.north}{n1c.north}{30}
\Ag{n1a.north}{n1f.north}{38}
\Ag{n1b.north}{n1f.north}{28}
\Ag{n0d.north}{n1d.north}{55}
\Rn{n0b.north}{e0dream.south}{20}{10}
\Rn{n0a.north}{e0dream.south west}{25}{12}
\Rn{n0d.north}{e0side.south}{25}{12}
\Rn{n0f.north}{e0glass.south}{5}{5}
\Rn{n1a.north}{f1dream.south west}{30}{12}
\Rn{n1b.north}{f1glass.south east}{5}{5}
\Rn{n1d.north}{f1wife.south}{20}{10}
\Rn{n1f.north}{f1breakfast.south}{15}{10}
\Ra{n0d.north}{n1a.north}{50}
% R2
\Ag{n2a.north}{n2c.north}{30}
\Ag{n2a.north}{n2f.north}{40}
\Ag{n2c.north}{n2f.north}{30}
\Ag{n2d.north}{n2g.north}{32}
\Ag{n2f.north}{n2h.north}{28}
\Ag{n2c.north}{n2j.north}{55}
\Ag{n2g.north}{n2j.north}{35}
\Ag{n2h.north}{n2j.north}{25}
\Ag{n2a.north}{n2h.north}{50}
\Ag{n2f.north}{n2i.north}{40}
\Rn{n2a.north}{g2glass.south west}{25}{10}
\Rn{n2c.north}{g2side.south}{30}{30}
\Rn{n2d.north}{g2glass.south east}{8}{6}
\Rn{n2f.north}{g2dream.south}{35}{30}
\Rn{n2g.north}{g2forest.south west}{25}{10}
\Rn{n2h.north}{g2forest.south}{20}{10}
\Rn{n2j.north}{g2sea.south}{10}{6}
% R3
\Ag{n3a.north}{n3c.north}{40}
\Ag{n3a.north}{n3e.north}{55}
\Ag{n3c.north}{n3e.north}{35}
\Ag{n3b.north}{n3d.north}{30}
\Ag{n3e.north}{n3g.north}{40}
\Ag{n3c.north}{n3g.north}{55}
\Ag{n3a.north}{n3g.north}{75}
\Ag{n3d.north}{n3f.north}{30}
\Ag{n3f.north}{n3g.north}{25}
\Ra{n3a.north}{n3b.north}{30}
\Ra{n3a.north}{n3c.north}{25}
\Ra{n3b.north}{n3d.north}{40}
\Rn{n3d.north}{h3forest.south west}{15}{8}
\Rn{n3e.north}{h3forest.south}{8}{6}
\Rn{n3f.north}{h3sea.south}{8}{6}
\Rn{n3g.north}{h3man.south}{20}{10}
% R4
\Ag{n4a.north}{n4e.north}{40}
\Ag{n4a.north}{n4j.north}{70}
\Ag{n4c.north}{n4g.north}{35}
\Ag{n4e.north}{n4j.north}{40}
\Ag{n4g.north}{n4i.north}{25}
\Ag{n4b.north}{n4f.north}{38}
\Ag{n4e.north}{n4g.north}{25}
\Rn{n4a.north}{i4man.south}{45}{10}
\Rn{n4c.north}{i4see.south}{20}{10}
\Rn{n4g.north}{i4wall.south}{15}{8}
\Rn{n4i.north}{i4house.south}{10}{8}
\Rn{n4j.north}{i4house.south east}{10}{8}
\Ra{n4a.north}{n4c.north}{25}
% R5
\Ag{n5a.north}{n5c.north}{35}
\Ag{n5b.north}{n5d.north}{30}
\Ag{n5c.north}{n5e.north}{40}
\Ag{n5d.north}{n5f.north}{30}
\Ag{n5a.north}{n5f.north}{60}
\Ag{n5b.north}{n5f.north}{50}
\draw[rline] (n5a.north) .. controls +(0,-60) and +(-40,0) .. (j5stare.west);
\Ra{n5b.north}{n5c.north}{15}
\Ra{n5c.north}{n5d.north}{15}
\Rn{n5b.north}{j5seec.south}{8}{6}
\Rn{n5c.north}{j5castleb.south}{8}{6}
\Rn{n5d.north}{j5road.south}{8}{6}
\Rn{n5f.north}{j5house.south}{15}{8}
\end{pgfonlayer}
\end{tikzpicture}
\end{document}
